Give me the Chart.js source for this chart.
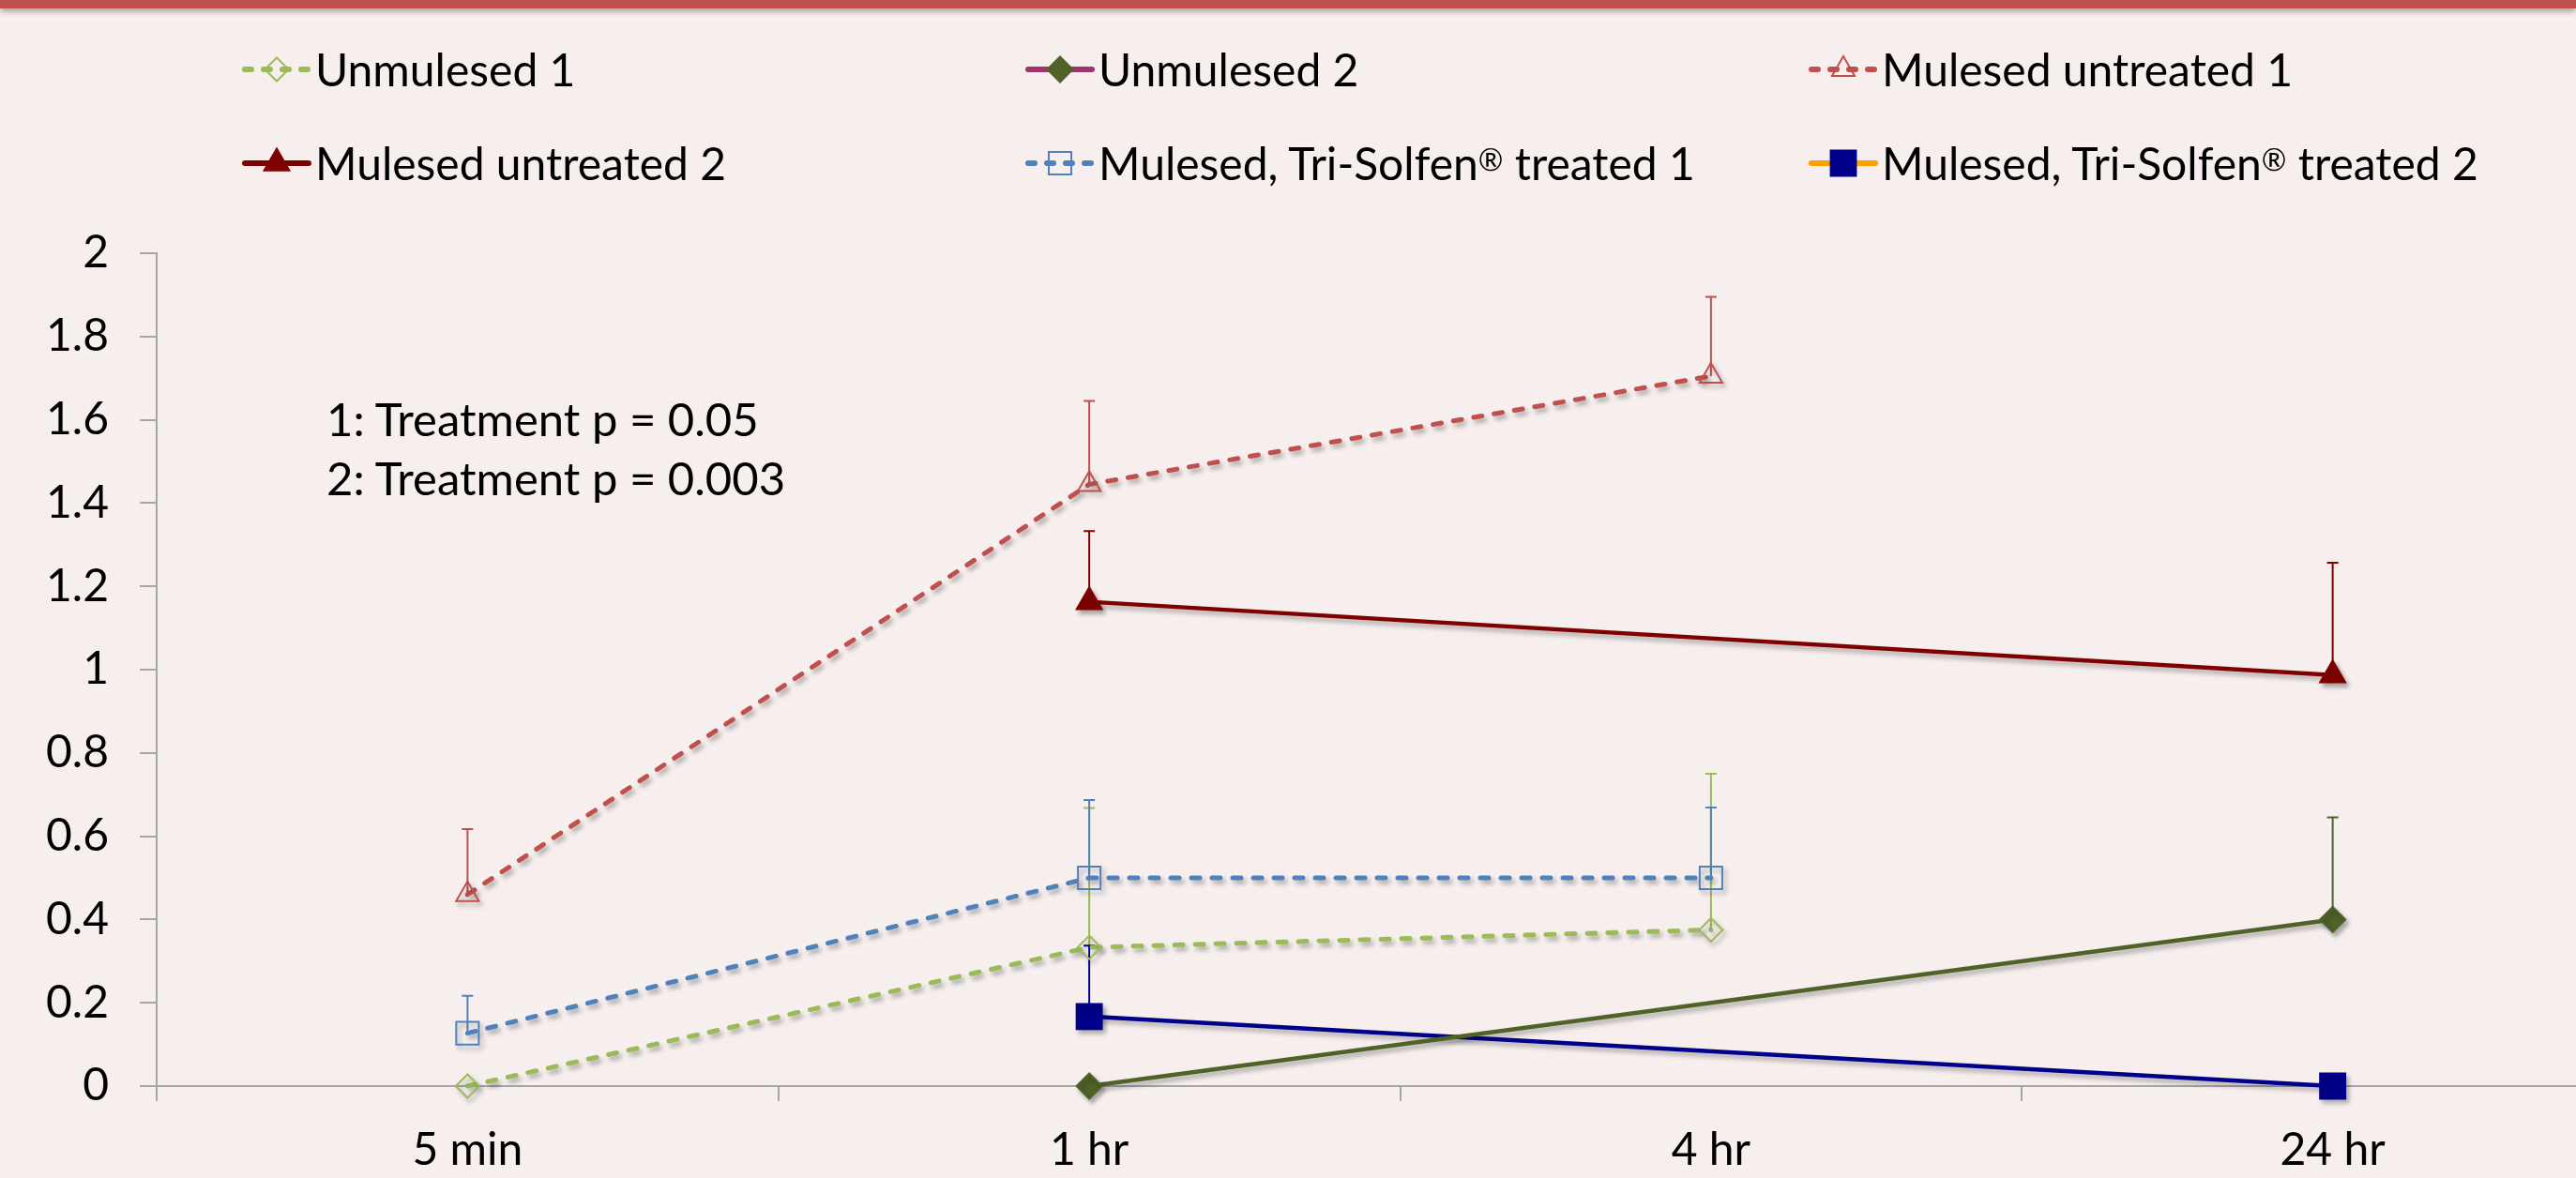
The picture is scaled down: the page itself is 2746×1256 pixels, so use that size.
<!DOCTYPE html>
<html>
<head>
<meta charset="utf-8">
<title>Mulesing chart</title>
<script src="https://cdn.jsdelivr.net/npm/chart.js@4.4.1/dist/chart.umd.min.js"></script>
<style>
  html, body { margin: 0; padding: 0; }
  body { width: 2746px; height: 1256px; overflow: hidden; background: #F6EFEE; position: relative; font-family: Lato, "Open Sans", sans-serif; }
  #topbar { position: absolute; left: 0; top: 0; width: 100%; height: 9px; background: #C0504D; box-shadow: 0 3px 6px rgba(0,0,0,0.35); z-index: 3; }
  #wrap { position: absolute; left: 0; top: 0; width: 2839px; height: 1256px; }
  .item { position: absolute; display: flex; align-items: center; height: 58px; font-size: 48px; line-height: 58px; color: #000; white-space: nowrap; z-index: 2; }
  .item canvas { width: 76px; height: 40px; margin-right: 3px; }
  .reg { font-size: 32px; vertical-align: 10px; line-height: 0; }
  #note { position: absolute; left: 348px; top: 415px; font-size: 49px; line-height: 63px; color: #000; z-index: 2; }
</style>
</head>
<body>
<div id="topbar"></div>
<div id="wrap"><canvas id="chart" width="2839" height="1256"></canvas></div>
<div id="legend"></div>
<div id="note">1: Treatment p = 0.05<br>2: Treatment p = 0.003</div>
<script>
const categories = ['5 min', '1 hr', '4 hr', '24 hr'];
const yTickLabels = ['0', '0.2', '0.4', '0.6', '0.8', '1', '1.2', '1.4', '1.6', '1.8', '2'];

const unmulesed1 = [0, 0.333, 0.375, null];
const unmulesed1Err = [0, 0.335, 0.375, null];
const unmulesed2 = [null, 0, null, 0.40];
const unmulesed2Err = [null, 0, null, 0.245];
const untreated1 = [0.46, 1.445, 1.705, null];
const untreated1Err = [0.157, 0.2, 0.19, null];
const untreated2 = [null, 1.163, null, 0.987];
const untreated2Err = [null, 0.17, null, 0.27];
const treated1 = [0.127, 0.5, 0.5, null];
const treated1Err = [0.09, 0.187, 0.169, null];
const treated2 = [null, 0.167, null, 0];
const treated2Err = [null, 0.17, null, 0];

const errors = [unmulesed1Err, unmulesed2Err, untreated1Err, untreated2Err, treated1Err, treated2Err];
const dash = [9, 13];

function series(label, data, color, dashed, style, radius, filled, legendLine) {
  return {
    label: label,
    data: data,
    borderColor: color,
    borderWidth: dashed ? 5 : 4.5,
    borderDash: dashed ? dash : [],
    borderCapStyle: dashed ? 'round' : 'butt',
    pointStyle: style,
    pointRadius: radius,
    pointHoverRadius: radius,
    pointBorderWidth: 2,
    pointBorderColor: color,
    pointBackgroundColor: filled ? color : 'rgba(0,0,0,0)',
    tension: 0,
    spanGaps: true,
    clip: false,
    legendLine: legendLine
  };
}

const datasets = [
  series('Unmulesed 1', unmulesed1, '#9BBB59', true, 'rectRot', 12.5, false, '#9BBB59'),
  series('Unmulesed 2', unmulesed2, '#4F6228', false, 'rectRot', 13.5, true, '#A0336E'),
  series('Mulesed untreated 1', untreated1, '#C0504D', true, 'triangle', 14, false, '#C0504D'),
  series('Mulesed untreated 2', untreated2, '#800000', false, 'triangle', 15.5, true, '#800000'),
  series('Mulesed, Tri-Solfen® treated 1', treated1, '#4F81BD', true, 'rect', 17, false, '#4F81BD'),
  series('Mulesed, Tri-Solfen® treated 2', treated2, '#00008B', false, 'rect', 19, true, '#FFA000')
];

const errorBars = {
  id: 'errorBars',
  beforeDatasetsDraw(chart) {
    const ctx = chart.ctx;
    const y = chart.scales.y;
    chart.data.datasets.forEach((ds, i) => {
      const meta = chart.getDatasetMeta(i);
      errors[i].forEach((e, j) => {
        const v = ds.data[j];
        if (v === null || !e) return;
        const p = meta.data[j];
        const top = y.getPixelForValue(v + e);
        ctx.save();
        ctx.strokeStyle = ds.borderColor;
        ctx.lineWidth = 2;
        ctx.beginPath();
        ctx.moveTo(p.x, p.y);
        ctx.lineTo(p.x, top);
        ctx.moveTo(p.x - 6, top);
        ctx.lineTo(p.x + 6, top);
        ctx.stroke();
        ctx.restore();
      });
    });
    // drop shadow for lines and markers, like the original
    ctx.save();
    ctx.shadowColor = 'rgba(0,0,0,0.3)';
    ctx.shadowBlur = 5;
    ctx.shadowOffsetX = 3;
    ctx.shadowOffsetY = 4;
  },
  afterDatasetsDraw(chart) {
    chart.ctx.restore();
  }
};

function makeIcon(ds) {
  const c = document.createElement('canvas');
  c.width = 76;
  c.height = 40;
  const g = c.getContext('2d');
  g.strokeStyle = ds.legendLine;
  g.lineWidth = 6;
  g.lineCap = 'round';
  if (ds.borderDash.length) g.setLineDash([7, 13]);
  g.beginPath();
  g.moveTo(4, 20);
  g.lineTo(72, 20);
  g.stroke();
  g.setLineDash([]);
  g.fillStyle = ds.pointBackgroundColor;
  g.strokeStyle = ds.pointBorderColor;
  g.lineWidth = 2;
  Chart.helpers.drawPoint(g, { pointStyle: ds.pointStyle, radius: ds.pointRadius, rotation: 0, borderWidth: 2 }, 38, 20);
  return c;
}

function buildLegend() {
  const cols = [257, 1092, 1927];
  const rows = [45, 145];
  const box = document.getElementById('legend');
  datasets.forEach((ds, i) => {
    const item = document.createElement('div');
    item.className = 'item';
    item.style.left = cols[i % 3] + 'px';
    item.style.top = rows[Math.floor(i / 3)] + 'px';
    item.appendChild(makeIcon(ds));
    const t = document.createElement('span');
    ds.label.split('®').forEach((part, k) => {
      if (k > 0) {
        const r = document.createElement('span');
        r.className = 'reg';
        r.textContent = '®';
        t.appendChild(r);
      }
      t.appendChild(document.createTextNode(part));
    });
    item.appendChild(t);
    box.appendChild(item);
  });
}

function draw() {
  Chart.defaults.font.family = 'Lato, "Open Sans", sans-serif';
  const axisGrey = '#A6A6A6';
  const ctx = document.getElementById('chart').getContext('2d');
  new Chart(ctx, {
    type: 'line',
    data: { labels: categories, datasets: datasets },
    options: {
      responsive: false,
      animation: false,
      layout: { padding: { top: 270, right: 0, bottom: 0, left: 0 } },
      plugins: { legend: { display: false }, tooltip: { enabled: false } },
      scales: {
        x: {
          offset: true,
          border: { color: axisGrey, width: 2 },
          grid: { offset: true, drawOnChartArea: false, tickLength: 16, color: axisGrey, lineWidth: 2 },
          ticks: { padding: 24, color: '#000', font: { size: 48 }, maxRotation: 0, autoSkip: false },
          afterFit: s => { s.height = 98; }
        },
        y: {
          min: 0,
          max: 2,
          border: { color: axisGrey, width: 2 },
          grid: { drawOnChartArea: false, tickLength: 18, color: axisGrey, lineWidth: 2 },
          ticks: { stepSize: 0.2, padding: 33, color: '#000', font: { size: 48 }, callback: (v, i) => yTickLabels[i] },
          afterFit: s => { s.width = 167; }
        }
      }
    },
    plugins: [errorBars]
  });
}

buildLegend();
document.fonts.load('48px Lato').then(draw, draw);
</script>
</body>
</html>
